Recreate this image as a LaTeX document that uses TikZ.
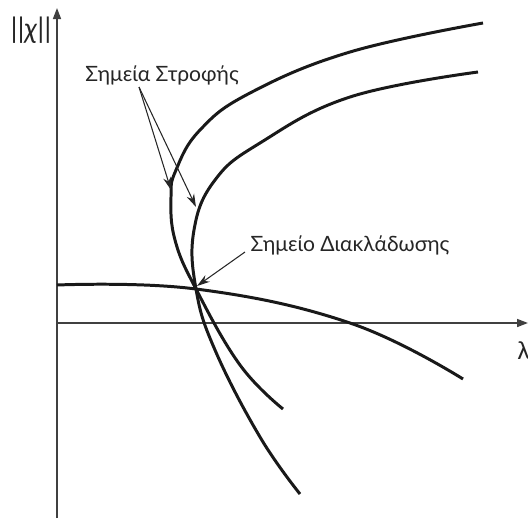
\documentclass[tikz,border=0pt]{standalone}
\usepackage{fontspec}
\setmainfont{Lato}
\usepackage{tikz}
\usetikzlibrary{arrows.meta, positioning, calc}

\begin{document}
\begin{tikzpicture}[
    x=0.02cm, y=-0.02cm,
    every node/.style={font=\fontsize{12}{14}\selectfont, inner sep=1pt},
    axis/.style={-{Triangle[length=2.2mm, width=1.6mm]}, line width=0.9pt, black!75},
    branch/.style={line width=1.7pt, black!90},
    pointer/.style={-{Stealth[length=2.6mm, width=1.6mm]}, line width=0.6pt, black!85},
    lbl/.style={text=black!85}
]
\useasboundingbox (0,0) rectangle (528,518);

% axes
\coordinate (origin) at (57,323);
\coordinate (ytop) at (57,8);
\coordinate (ybot) at (57,518);
\coordinate (xend) at (528,323);
\draw[line width=0.9pt, black!75] (ybot) -- (origin);
\draw[axis] (origin) -- (ytop);
\draw[axis] (origin) -- (xend);
\node[lbl, font=\fontsize{16}{18}\selectfont] (ylab) at (31,30) {||\textit{χ}||};
\node[lbl, font=\fontsize{14}{16}\selectfont] (xlab) at (524,351) {λ};

% solution branches
\coordinate (bif) at (196,289);
\coordinate (turnA) at (171,190);
\coordinate (turnB) at (196,207);
\draw[branch] plot[smooth, tension=0.7] coordinates {(483,23) (350,52) (250,93) (200,130) (176,170) (171,197) (175,240) (bif) (240,365) (283,409)};
\draw[branch] plot[smooth, tension=0.7] coordinates {(478,72) (350,97) (260,143) (215,180) (194,230) (bif) (215,350) (260,437) (300,494)};
\draw[branch] plot[smooth, tension=0.7] coordinates {(57,285) (bif) (350,323) (463,379)};

% labels
\node[lbl] (turns) at (162,75) {Σημεία Στροφής};
\node[lbl] (bifl) at (350,245) {Σημείο Διακλάδωσης};
\coordinate (tfoot) at (139,87);
\coordinate (bfoot) at (245,252);
\draw[pointer] (tfoot) -- (turnA);
\draw[pointer] (tfoot) -- (turnB);
\draw[pointer] (bfoot) -- ([shift={(1,-3)}]bif);

\end{tikzpicture}
\end{document}
